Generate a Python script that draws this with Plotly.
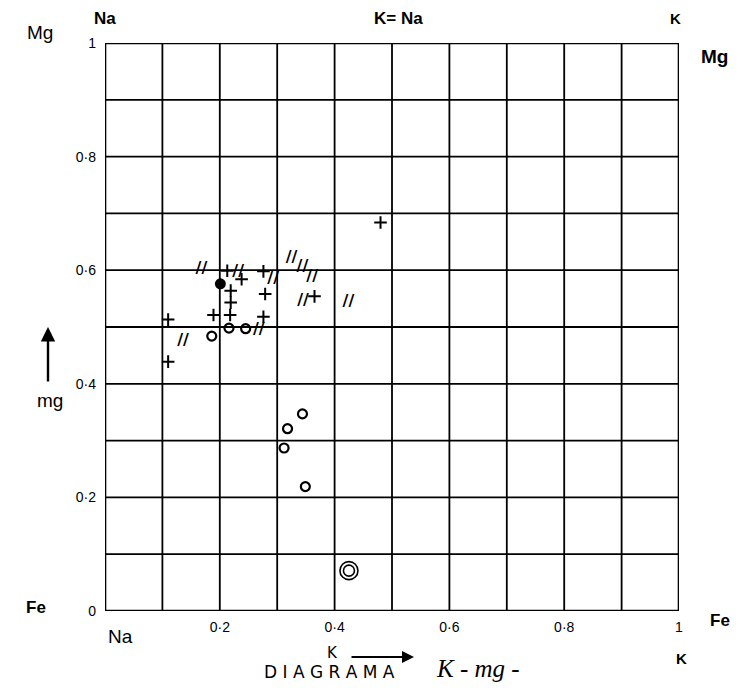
import plotly.graph_objects as go

# ---- data ----
plus_x = [0.213, 0.238, 0.219, 0.219, 0.218, 0.189, 0.110, 0.276, 0.279, 0.276, 0.110, 0.365, 0.480]
plus_y = [0.599, 0.584, 0.564, 0.543, 0.521, 0.521, 0.513, 0.598, 0.558, 0.518, 0.439, 0.554, 0.684]

slash_x = [0.168, 0.232, 0.293, 0.268, 0.136, 0.325, 0.344, 0.361, 0.345, 0.424]
slash_y = [0.602, 0.597, 0.584, 0.494, 0.475, 0.622, 0.606, 0.588, 0.545, 0.544]

open_x = [0.216, 0.245, 0.186, 0.344, 0.318, 0.312, 0.349]
open_y = [0.498, 0.497, 0.484, 0.347, 0.321, 0.287, 0.219]

filled_x = [0.201]
filled_y = [0.576]

double_x = [0.425]
double_y = [0.071]

grid_vals = [0.1, 0.2, 0.3, 0.4, 0.5, 0.6, 0.7, 0.8, 0.9]
xtick_vals = [0.2, 0.4, 0.6, 0.8, 1.0]
xtick_text = ["0·2", "0·4", "0·6", "0·8", "1"]
ytick_vals = [0, 0.2, 0.4, 0.6, 0.8, 1.0]
ytick_text = ["0", "0·2", "0·4", "0·6", "0·8", "1"]

OFF = 8  # page body margin
W, H = 752 - OFF, 698 - OFF
L, T = 105 - OFF, 43 - OFF
R = W - (679 - OFF)
B = H - (611 - OFF)
FONT = "Liberation Sans"

fig = go.Figure()

for v in grid_vals:
    fig.add_shape(type="line", x0=v, x1=v, y0=0, y1=1, xref="x", yref="y",
                  line=dict(color="black", width=1.8), layer="below")
    fig.add_shape(type="line", x0=0, x1=1, y0=v, y1=v, xref="x", yref="y",
                  line=dict(color="black", width=1.8), layer="below")
fig.add_shape(type="rect", x0=0, x1=1, y0=0, y1=1, xref="x", yref="y",
              line=dict(color="black", width=2.6), layer="below")

fig.add_trace(go.Scatter(x=plus_x, y=plus_y, mode="markers",
                         marker=dict(symbol="cross-thin", size=9, color="black",
                                     line=dict(color="black", width=2)),
                         showlegend=False, hoverinfo="skip"))
fig.add_trace(go.Scatter(x=slash_x, y=slash_y, mode="text", text=["//"] * len(slash_x),
                         textposition="middle center",
                         textfont=dict(family="DejaVu Sans", size=16, color="black", weight="bold"),
                         showlegend=False, hoverinfo="skip"))
fig.add_trace(go.Scatter(x=open_x, y=open_y, mode="markers",
                         marker=dict(symbol="circle-open", size=9, color="black",
                                     line=dict(color="black", width=2.2)),
                         showlegend=False, hoverinfo="skip"))
fig.add_trace(go.Scatter(x=filled_x, y=filled_y, mode="markers",
                         marker=dict(symbol="circle", size=11, color="black"),
                         showlegend=False, hoverinfo="skip"))
fig.add_trace(go.Scatter(x=double_x, y=double_y, mode="markers",
                         marker=dict(symbol="circle-open", size=18, color="black",
                                     line=dict(color="black", width=1.6)),
                         showlegend=False, hoverinfo="skip"))
fig.add_trace(go.Scatter(x=double_x, y=double_y, mode="markers",
                         marker=dict(symbol="circle-open", size=11, color="black",
                                     line=dict(color="black", width=1.6)),
                         showlegend=False, hoverinfo="skip"))


def px2paper(px, py):
    px -= OFF
    py -= OFF
    return (px - L) / (W - L - R), (H - B - py) / (H - T - B)


def label(text, px, py, size=16, family=FONT, bold=True, italic=False):
    x, y = px2paper(px, py)
    t = f"<b>{text}</b>" if bold else text
    if italic:
        t = f"<i>{t}</i>"
    fig.add_annotation(x=x, y=y, xref="paper", yref="paper", text=t, showarrow=False,
                       font=dict(family=family, size=size, color="black"),
                       xanchor="center", yanchor="middle")


label("Na", 105, 18, 17)
label("K= Na", 398, 18, 17)
label("K", 675, 18, 15)
label("Mg", 40, 33, 19, bold=False)
label("Mg", 714, 57, 19)
label("Fe", 36, 607, 17)
label("Fe", 720, 620, 17)
label("Na", 120, 636, 19, bold=False)
label("K", 681, 658, 15)
label("mg", 50, 400, 19, bold=False)
label("K", 332, 653, 15, family="DejaVu Sans", bold=False)
label("D I A G R A M A", 329, 672, 17, family="DejaVu Sans", bold=False)
label("K - mg -", 478, 668, 25, family="Liberation Serif", bold=False, italic=True)

# mg arrow (upwards)
ax0, ay0 = px2paper(48, 327)
fig.add_annotation(x=ax0, y=ay0, xref="paper", yref="paper", ax=0, ay=56, text="",
                   showarrow=True, arrowhead=2, arrowsize=1.2, arrowwidth=2.4, arrowcolor="black")
# K arrow (rightwards)
kx, ky = px2paper(414, 657)
fig.add_annotation(x=kx, y=ky, xref="paper", yref="paper", ax=-64, ay=0, text="",
                   showarrow=True, arrowhead=2, arrowsize=1.2, arrowwidth=2, arrowcolor="black")

fig.update_xaxes(range=[0, 1], showgrid=False, zeroline=False, showline=False,
                 tickmode="array", tickvals=xtick_vals, ticktext=xtick_text, ticks="",
                 tickfont=dict(family=FONT, size=14, color="black"), ticklabelstandoff=6)
fig.update_yaxes(range=[0, 1], showgrid=False, zeroline=False, showline=False,
                 tickmode="array", tickvals=ytick_vals, ticktext=ytick_text, ticks="",
                 tickfont=dict(family=FONT, size=14, color="black"), ticklabelstandoff=8)

fig.update_layout(width=W, height=H, margin=dict(l=L, r=R, t=T, b=B),
                  plot_bgcolor="white", paper_bgcolor="white", showlegend=False)

fig.write_html("out.html")
